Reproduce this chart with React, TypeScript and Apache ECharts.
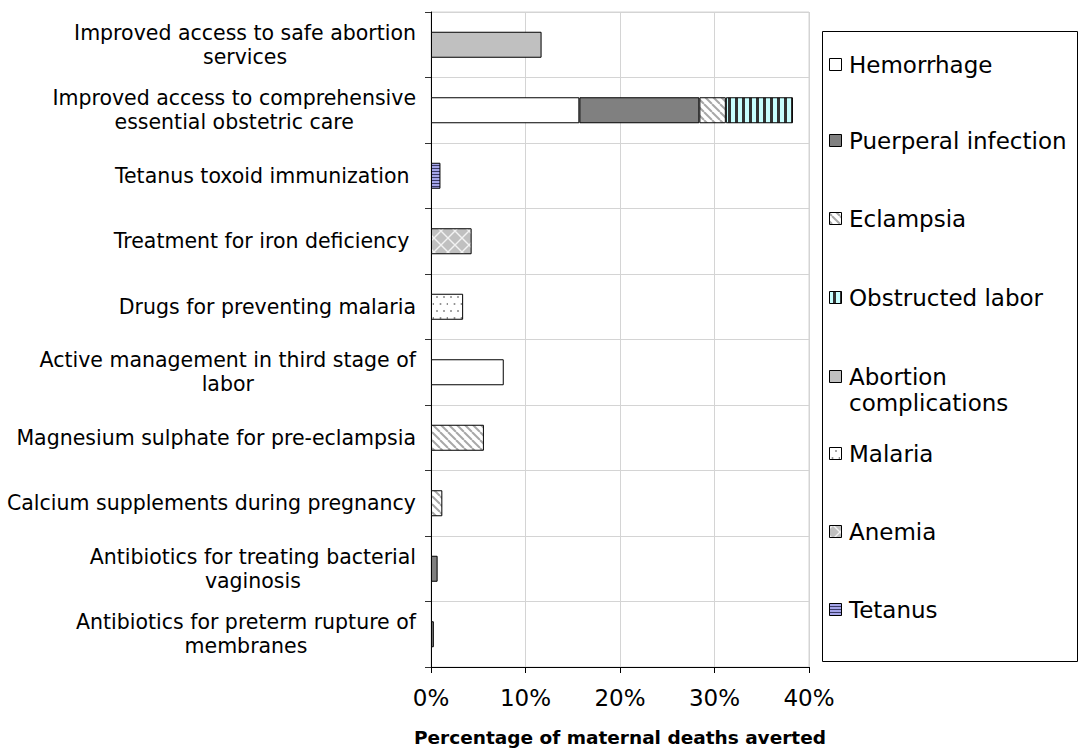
import React, { useEffect, useRef } from "react";
import * as echarts from "echarts";

// Interventions, listed top to bottom
const categories = [
  "Improved access to safe abortion\nservices",
  "Improved access to comprehensive\nessential obstetric care",
  "Tetanus toxoid immunization ",
  "Treatment for iron deficiency ",
  "Drugs for preventing malaria",
  "Active management in third stage of\nlabor",
  "Magnesium sulphate for pre-eclampsia",
  "Calcium supplements during pregnancy",
  "Antibiotics for treating bacterial\nvaginosis",
  "Antibiotics for preterm rupture of\nmembranes",
];

// Percentage of maternal deaths averted, by cause
const hemorrhage = [null, 15.7, null, null, null, 7.7, null, null, null, null];
const puerperalInfection = [null, 12.7, null, null, null, null, null, null, 0.7, 0.3];
const eclampsia = [null, 2.8, null, null, null, null, 5.6, 1.2, null, null];
const obstructedLabor = [null, 7.1, null, null, null, null, null, null, null, null];
const abortionComplications = [11.7, null, null, null, null, null, null, null, null, null];
const malaria = [null, null, null, null, 3.4, null, null, null, null, null];
const anemia = [null, null, null, 4.3, null, null, null, null, null, null];
const tetanus = [null, null, 1.0, null, null, null, null, null, null, null];

const xTicks = [0, 10, 20, 30, 40];

const FONT = "'DejaVu Sans', Verdana, sans-serif";

type Painter = (ctx: CanvasRenderingContext2D, w: number, h: number) => void;

function tile(w: number, h: number, paint: Painter) {
  const c = document.createElement("canvas");
  c.width = w;
  c.height = h;
  const ctx = c.getContext("2d") as CanvasRenderingContext2D;
  paint(ctx, w, h);
  return { image: c.toDataURL(), repeat: "repeat", imageWidth: w, imageHeight: h };
}

function buildFills() {
  const eclampsiaFill = tile(8, 8, (ctx, w, h) => {
    ctx.fillStyle = "#ffffff";
    ctx.fillRect(0, 0, w, h);
    ctx.strokeStyle = "#a8a8a8";
    ctx.lineWidth = 2;
    for (const o of [-w, 0, w]) {
      ctx.beginPath();
      ctx.moveTo(o, 0);
      ctx.lineTo(o + w, h);
      ctx.stroke();
    }
  });
  const obstructedFill = tile(7, 8, (ctx, w, h) => {
    ctx.fillStyle = "#c8ffff";
    ctx.fillRect(0, 0, w, h);
    ctx.fillStyle = "#333333";
    ctx.fillRect(0, 0, 3, h);
  });
  const malariaFill = tile(14, 14, (ctx, w, h) => {
    ctx.fillStyle = "#ffffff";
    ctx.fillRect(0, 0, w, h);
    ctx.fillStyle = "#8a8a8a";
    for (const [x, y] of [[3, 3], [10, 3], [6.5, 10], [13.5, 10]]) {
      ctx.beginPath();
      ctx.arc(x, y, 1, 0, Math.PI * 2);
      ctx.fill();
    }
  });
  const anemiaFill = tile(14, 14, (ctx, w, h) => {
    ctx.fillStyle = "#c0c0c0";
    ctx.fillRect(0, 0, w, h);
    ctx.strokeStyle = "#f2f2f2";
    ctx.lineWidth = 1.4;
    ctx.beginPath();
    ctx.moveTo(0, 0);
    ctx.lineTo(w, h);
    ctx.moveTo(w, 0);
    ctx.lineTo(0, h);
    ctx.stroke();
  });
  const tetanusFill = tile(4, 3, (ctx, w, h) => {
    ctx.fillStyle = "#a4a4e8";
    ctx.fillRect(0, 0, w, h);
    ctx.fillStyle = "#3a3a66";
    ctx.fillRect(0, 0, w, 1);
  });
  return [
    "#ffffff",
    "#808080",
    eclampsiaFill,
    obstructedFill,
    "#c0c0c0",
    malariaFill,
    anemiaFill,
    tetanusFill,
  ];
}

const seriesNames = [
  "Hemorrhage",
  "Puerperal infection",
  "Eclampsia",
  "Obstructed labor",
  "Abortion complications",
  "Malaria",
  "Anemia",
  "Tetanus",
];
const seriesValues = [
  hemorrhage,
  puerperalInfection,
  eclampsia,
  obstructedLabor,
  abortionComplications,
  malaria,
  anemia,
  tetanus,
];
// Legend text lines and vertical centre of each entry
const legendLines = [
  ["Hemorrhage"],
  ["Puerperal infection"],
  ["Eclampsia"],
  ["Obstructed labor"],
  ["Abortion", "complications"],
  ["Malaria"],
  ["Anemia"],
  ["Tetanus"],
];
const legendY = [65, 141, 219, 298, 377, 454, 532, 610];

export default function App() {
  const ref = useRef<HTMLDivElement>(null);

  useEffect(() => {
    if (!ref.current) return;
    const chart = echarts.init(ref.current, undefined, { renderer: "svg" });
    const fills = buildFills();

    const legendEls: any[] = [
      {
        type: "rect",
        shape: { x: 822.5, y: 31.5, width: 255, height: 630 },
        style: { fill: "#ffffff", stroke: "#000000", lineWidth: 1 },
      },
    ];
    seriesNames.forEach((name, i) => {
      const cy = legendY[i];
      legendEls.push({
        type: "rect",
        shape: { x: 829.5, y: cy - 6.5, width: 12, height: 12 },
        style: { fill: fills[i], stroke: "#000000", lineWidth: 1 },
      });
      legendLines[i].forEach((line, k) => {
        legendEls.push({
          type: "text",
          x: 849,
          y: cy + k * 26,
          style: {
            text: line,
            fill: "#000000",
            font: `23px ${FONT}`,
            verticalAlign: "middle",
          },
        });
      });
    });

    chart.setOption({
      animation: false,
      backgroundColor: "#ffffff",
      grid: {
        left: 431,
        right: 271,
        top: 12,
        bottom: 84,
        containLabel: false,
        outerBoundsMode: "none",
        show: true,
        backgroundColor: "transparent",
        borderColor: "#d4d4d4",
        borderWidth: 1,
      },
      xAxis: {
        type: "value",
        min: xTicks[0],
        max: xTicks[xTicks.length - 1],
        interval: 10,
        name: "Percentage of maternal deaths averted",
        nameLocation: "middle",
        nameGap: 61,
        nameTextStyle: { fontFamily: FONT, fontSize: 18.5, fontWeight: "bold", color: "#000" },
        axisLine: { show: true, lineStyle: { color: "#000", width: 1 } },
        axisTick: { show: true, length: 6, lineStyle: { color: "#000" } },
        axisLabel: {
          formatter: "{value}%",
          fontFamily: FONT,
          fontSize: 23,
          color: "#000",
          margin: 19,
        },
        splitLine: { show: true, lineStyle: { color: "#d4d4d4", width: 1 } },
      },
      yAxis: {
        type: "category",
        inverse: true,
        data: categories,
        axisLine: { show: true, lineStyle: { color: "#000", width: 1 } },
        axisTick: { show: true, length: 6, lineStyle: { color: "#333" } },
        splitLine: { show: true, lineStyle: { color: "#d4d4d4", width: 1 } },
        axisLabel: {
          margin: 15,
          fontFamily: FONT,
          fontSize: 20.5,
          lineHeight: 24,
          color: "#000",
          formatter: (v: string) =>
            v
              .split("\n")
              .map((l) => `{c|${l}}`)
              .join("\n"),
          rich: {
            c: { align: "center", fontFamily: FONT, fontSize: 20.5, lineHeight: 24, color: "#000" },
          },
        },
      },
      series: seriesNames.map((name, i) => ({
        type: "bar",
        name,
        stack: "total",
        barWidth: 26,
        data: seriesValues[i],
        itemStyle: { color: fills[i], borderColor: "#000", borderWidth: 1 },
        emphasis: { disabled: true },
      })),
      graphic: legendEls,
    });

    return () => chart.dispose();
  }, []);

  return (
    <div
      ref={ref}
      style={{ position: "fixed", left: 0, top: 0, width: 1080, height: 751, background: "#fff" }}
    />
  );
}
